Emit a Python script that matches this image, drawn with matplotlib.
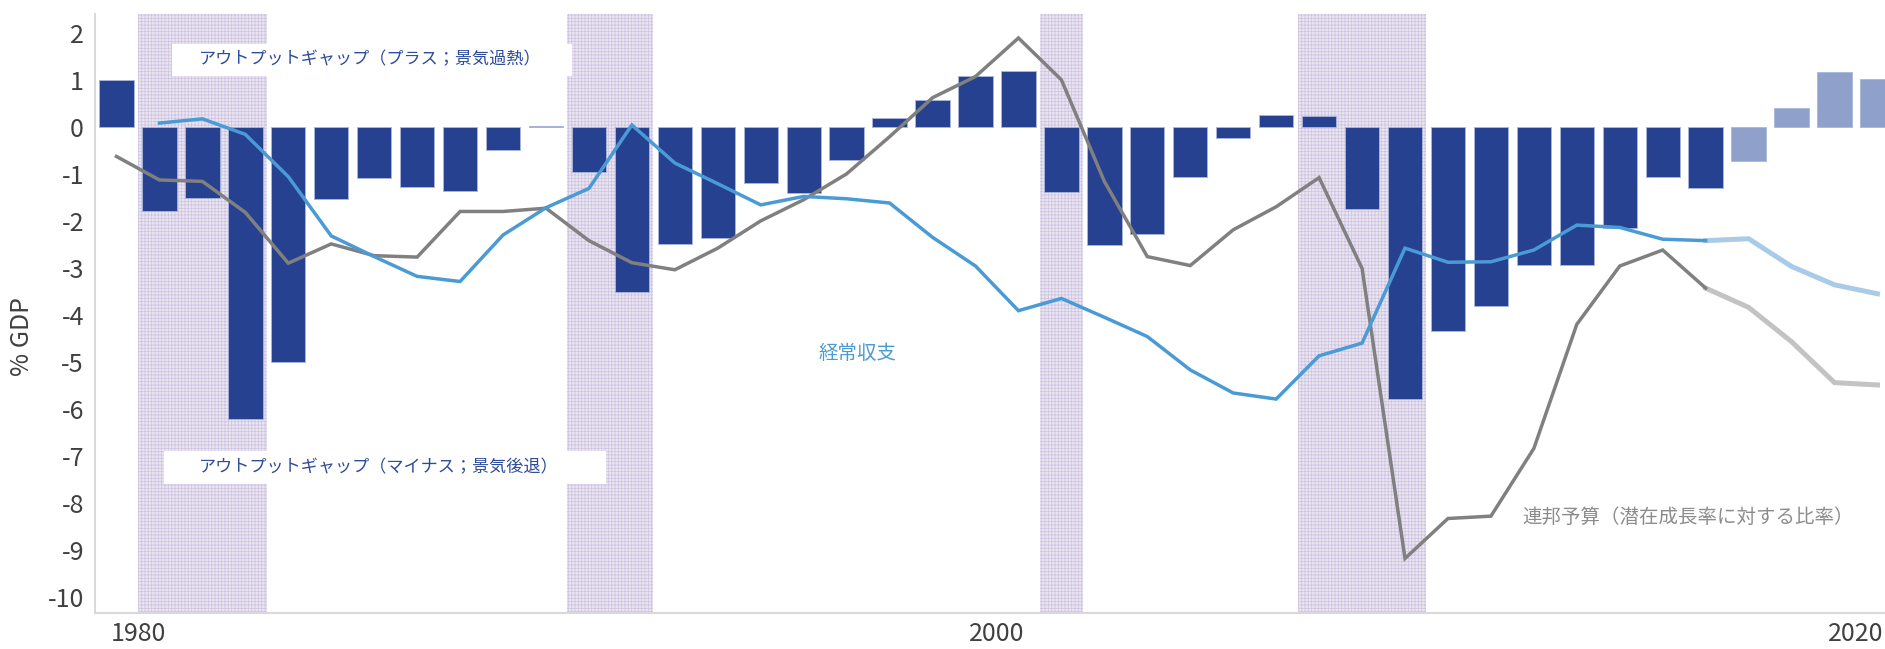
import matplotlib
matplotlib.use("Agg")
import matplotlib.pyplot as plt
from matplotlib.patches import Rectangle

plt.rcParams['font.family'] = ['Noto Sans CJK JP', 'DejaVu Sans']
plt.rcParams['hatch.linewidth'] = 0.6

# output gap, % of GDP (1979-2020; from 2017 on it is a projection)
gap_years = list(range(1979, 2021))
output_gap = [1.0, -1.80, -1.52, -6.22, -5.0, -1.53, -1.08, -1.28, -1.36, -0.50,
              0.02, -0.96, -3.52, -2.49, -2.36, -1.19, -1.41, -0.71, 0.19, 0.57,
              1.08, 1.18, -1.38, -2.51, -2.28, -1.06, -0.23, 0.26, 0.22, -1.75,
              -5.79, -4.34, -3.81, -2.94, -2.94, -2.16, -1.06, -1.31, -0.73, 0.40,
              1.17, 1.01]

# current account balance, % of GDP (1980-2020)
ca_years = list(range(1980, 2021))
current_account = [0.08, 0.17, -0.16, -1.06, -2.32, -2.76, -3.18, -3.29, -2.30, -1.72,
                   -1.31, 0.04, -0.77, -1.21, -1.66, -1.48, -1.53, -1.62, -2.35, -2.96,
                   -3.91, -3.65, -4.05, -4.46, -5.17, -5.66, -5.79, -4.87, -4.60, -2.58,
                   -2.88, -2.87, -2.62, -2.09, -2.14, -2.39, -2.42, -2.38, -2.97, -3.36,
                   -3.55]

# federal budget balance relative to potential output (1979-2020)
budget_years = list(range(1979, 2021))
federal_budget = [-0.63, -1.13, -1.16, -1.82, -2.90, -2.49, -2.74, -2.77, -1.80, -1.80,
                  -1.73, -2.42, -2.89, -3.04, -2.58, -2.00, -1.55, -1.00, -0.21, 0.62,
                  1.07, 1.89, 1.00, -1.16, -2.76, -2.95, -2.19, -1.70, -1.08, -3.01,
                  -9.18, -8.33, -8.28, -6.84, -4.20, -2.96, -2.62, -3.43, -3.84, -4.57,
                  -5.44, -5.49]

last_actual = 2016
recessions = [(1980, 1983), (1990, 1992), (2001, 2002), (2007, 2010)]

DARK_BAR = '#26418f'
LIGHT_BAR = '#8fa0cb'
BLUE = '#4a9bd5'
LIGHT_BLUE = '#a9cbe8'
GRAY = '#808080'
LIGHT_GRAY = '#c3c3c3'
TXT = '#404040'

fig = plt.figure(figsize=(18.85, 6.49), dpi=100)
# axes run past the right edge of the figure, so 2020 is cut off
ax = fig.add_axes([95 / 1885, 36 / 649, 1846.9 / 1885, 599 / 649])

for start, end in recessions:
    ax.axvspan(start, end, facecolor='#ebe6f2', edgecolor='#cfc5e0', hatch='+++++',
               lw=0, zorder=0)

bar_x = [y + 0.5 for y in gap_years]
bar_colors = [DARK_BAR if y <= last_actual else LIGHT_BAR for y in gap_years]
ax.bar(bar_x, output_gap, width=0.8, color=bar_colors, edgecolor='#aab6dc',
       linewidth=0.6, zorder=2)


def split_line(years, values, c_actual, c_proj, lw_actual, lw_proj):
    xs = [y + 0.5 for y in years]
    k = years.index(last_actual)
    ax.plot(xs[:k + 1], values[:k + 1], color=c_actual, lw=lw_actual, zorder=4,
            solid_joinstyle='miter')
    ax.plot(xs[k:], values[k:], color=c_proj, lw=lw_proj, zorder=3,
            solid_joinstyle='miter')


split_line(budget_years, federal_budget, GRAY, LIGHT_GRAY, 2.5, 3.6)
split_line(ca_years, current_account, BLUE, LIGHT_BLUE, 2.5, 3.6)

# labels
ax.add_patch(Rectangle((1980.8, 1.09), 9.3, 0.68, facecolor='white', edgecolor='none',
                       zorder=1))
ax.text(1985.4, 1.43, 'アウトプットギャップ（プラス；景気過熱）', ha='center', va='center',
        fontsize=12.3, color='#2d4b9b', zorder=5)
ax.add_patch(Rectangle((1980.6, -7.6), 10.3, 0.71, facecolor='white', edgecolor='none',
                       zorder=1))
ax.text(1985.6, -7.25, 'アウトプットギャップ（マイナス；景気後退）', ha='center', va='center',
        fontsize=12.3, color='#2d4b9b', zorder=5)
ax.text(1996.75, -4.83, '経常収支', ha='center', va='center', fontsize=14,
        color=BLUE, zorder=5)
ax.text(2016.1, -8.3, '連邦予算（潜在成長率に対する比率）', ha='center', va='center',
        fontsize=14, color='#8c8c8c', zorder=5)

ax.set_xlim(1979, 2022)
ax.set_ylim(-10.34, 2.4)
ax.set_yticks(range(-10, 3))
ax.set_yticklabels([str(v) for v in range(-10, 3)])
ax.set_xticks([1980, 2000, 2020])
ax.set_xticklabels(['1980', '2000', '2020'])
ax.tick_params(axis='both', length=0, labelsize=18, labelcolor=TXT)
ax.tick_params(axis='y', pad=8)
ax.tick_params(axis='x', pad=6)

for side in ['top', 'right']:
    ax.spines[side].set_visible(False)
for side in ['left', 'bottom']:
    ax.spines[side].set_color('#d9d9d9')
    ax.spines[side].set_linewidth(1.5)

fig.text(22 / 1885, 1 - 337 / 649, '% GDP', rotation=90, ha='center', va='center',
         fontsize=18, color=TXT)

fig.savefig('out.png', dpi=100)
